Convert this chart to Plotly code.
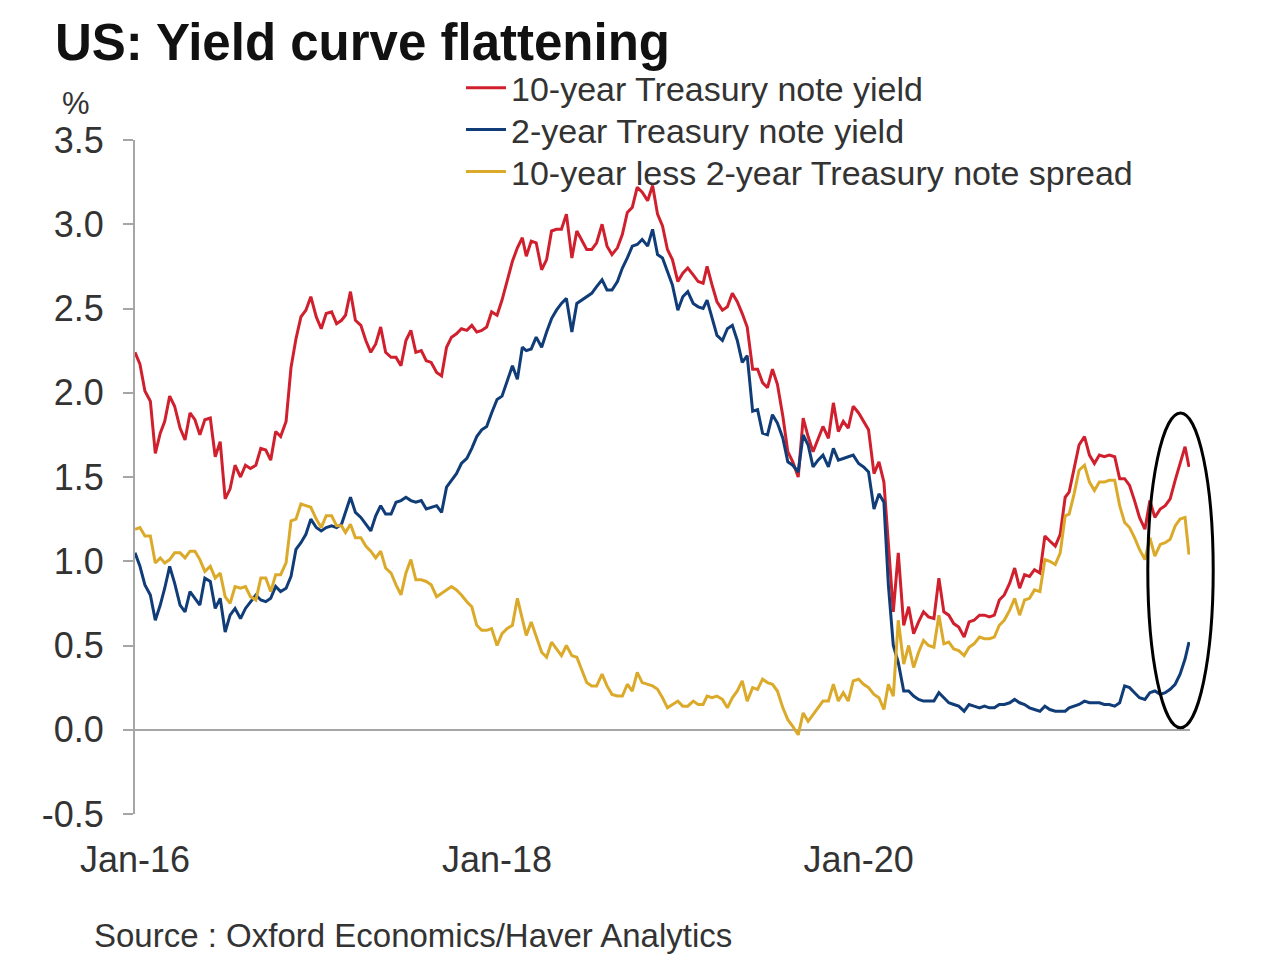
import plotly.graph_objects as go

# ---- data (approx. every 10 days: 1st, 11th, 21st of each month) ----
years = [2016, 2017, 2018, 2019, 2020, 2021]
end_date = "2021-10-29"

y10_2016 = [2.24, 2.17, 2.01, 1.95, 1.64, 1.76, 1.83, 1.98, 1.92, 1.79, 1.72, 1.88,
            1.84, 1.75, 1.84, 1.85, 1.62, 1.71, 1.37, 1.43, 1.57, 1.50, 1.57, 1.55,
            1.57, 1.67, 1.66, 1.60, 1.77, 1.74, 1.83, 2.15, 2.32, 2.45, 2.49, 2.57]
y10_2017 = [2.45, 2.38, 2.47, 2.48, 2.41, 2.43, 2.46, 2.60, 2.43, 2.40, 2.31, 2.24,
            2.29, 2.39, 2.24, 2.21, 2.21, 2.16, 2.31, 2.37, 2.24, 2.25, 2.19, 2.18,
            2.12, 2.10, 2.27, 2.33, 2.35, 2.38, 2.37, 2.40, 2.36, 2.37, 2.39, 2.48]
y10_2018 = [2.46, 2.55, 2.66, 2.78, 2.86, 2.92, 2.81, 2.90, 2.89, 2.73, 2.79, 2.96,
            2.97, 2.97, 3.06, 2.80, 2.96, 2.90, 2.85, 2.85, 2.89, 3.00, 2.87, 2.82,
            2.86, 2.94, 3.07, 3.10, 3.22, 3.19, 3.14, 3.23, 3.06, 2.99, 2.85, 2.79]
y10_2019 = [2.66, 2.71, 2.74, 2.70, 2.66, 2.65, 2.75, 2.64, 2.54, 2.49, 2.51, 2.59,
            2.54, 2.47, 2.39, 2.14, 2.14, 2.06, 2.03, 2.14, 2.05, 1.86, 1.65, 1.59,
            1.50, 1.85, 1.74, 1.65, 1.73, 1.80, 1.73, 1.94, 1.77, 1.83, 1.79, 1.92]
y10_2020 = [1.88, 1.83, 1.78, 1.52, 1.59, 1.47, 1.13, 0.70, 1.05, 0.62, 0.73, 0.57,
            0.64, 0.70, 0.67, 0.66, 0.90, 0.70, 0.68, 0.63, 0.61, 0.55, 0.64, 0.65,
            0.68, 0.68, 0.67, 0.68, 0.77, 0.80, 0.87, 0.96, 0.84, 0.92, 0.91, 0.95]
y10_2021 = [0.93, 1.15, 1.12, 1.09, 1.16, 1.38, 1.41, 1.54, 1.69, 1.74, 1.63, 1.58,
            1.63, 1.62, 1.63, 1.62, 1.49, 1.49, 1.45, 1.36, 1.26, 1.19, 1.36, 1.26,
            1.31, 1.33, 1.37, 1.48, 1.58, 1.68, 1.56]

y2_2016 = [1.05, 0.97, 0.86, 0.80, 0.65, 0.74, 0.84, 0.97, 0.87, 0.74, 0.70, 0.82,
           0.78, 0.74, 0.90, 0.88, 0.72, 0.78, 0.58, 0.68, 0.72, 0.66, 0.72, 0.76,
           0.80, 0.77, 0.76, 0.78, 0.85, 0.82, 0.84, 0.91, 1.07, 1.11, 1.16, 1.25]
y2_2017 = [1.20, 1.18, 1.20, 1.21, 1.20, 1.22, 1.29, 1.38, 1.29, 1.26, 1.22, 1.18,
           1.27, 1.33, 1.28, 1.28, 1.35, 1.36, 1.38, 1.36, 1.35, 1.36, 1.31, 1.32,
           1.33, 1.29, 1.44, 1.48, 1.52, 1.58, 1.61, 1.67, 1.74, 1.78, 1.80, 1.88]
y2_2018 = [1.96, 1.98, 2.06, 2.16, 2.08, 2.27, 2.25, 2.26, 2.33, 2.27, 2.36, 2.44,
           2.49, 2.53, 2.56, 2.36, 2.53, 2.55, 2.57, 2.59, 2.63, 2.67, 2.61, 2.61,
           2.66, 2.74, 2.80, 2.87, 2.88, 2.91, 2.87, 2.97, 2.82, 2.80, 2.72, 2.64]
y2_2019 = [2.49, 2.57, 2.60, 2.53, 2.51, 2.50, 2.55, 2.45, 2.34, 2.31, 2.38, 2.40,
           2.31, 2.18, 2.22, 1.89, 1.90, 1.76, 1.75, 1.87, 1.82, 1.73, 1.59, 1.57,
           1.53, 1.75, 1.69, 1.56, 1.60, 1.63, 1.56, 1.67, 1.60, 1.61, 1.62, 1.63]
y2_2020 = [1.58, 1.56, 1.53, 1.31, 1.40, 1.35, 0.86, 0.50, 0.40, 0.23, 0.23, 0.20,
           0.18, 0.17, 0.17, 0.17, 0.22, 0.19, 0.16, 0.15, 0.14, 0.11, 0.15, 0.14,
           0.13, 0.14, 0.13, 0.13, 0.15, 0.15, 0.16, 0.18, 0.16, 0.15, 0.13, 0.12]
y2_2021 = [0.11, 0.14, 0.12, 0.11, 0.11, 0.11, 0.13, 0.14, 0.15, 0.17, 0.16, 0.16,
           0.16, 0.15, 0.15, 0.14, 0.16, 0.26, 0.25, 0.22, 0.19, 0.18, 0.22, 0.23,
           0.21, 0.22, 0.24, 0.27, 0.33, 0.42, 0.52]

sp_2016 = [1.19, 1.20, 1.15, 1.15, 0.99, 1.02, 0.99, 1.01, 1.05, 1.05, 1.02, 1.06,
           1.06, 1.01, 0.94, 0.97, 0.90, 0.93, 0.79, 0.75, 0.85, 0.84, 0.85, 0.79,
           0.77, 0.90, 0.90, 0.82, 0.92, 0.92, 0.99, 1.24, 1.25, 1.34, 1.33, 1.32]
sp_2017 = [1.25, 1.20, 1.27, 1.27, 1.21, 1.21, 1.17, 1.22, 1.14, 1.14, 1.09, 1.06,
           1.02, 1.06, 0.96, 0.93, 0.86, 0.80, 0.93, 1.01, 0.89, 0.89, 0.88, 0.86,
           0.79, 0.81, 0.83, 0.85, 0.83, 0.80, 0.76, 0.73, 0.62, 0.59, 0.59, 0.60]
sp_2018 = [0.50, 0.57, 0.60, 0.62, 0.78, 0.65, 0.56, 0.64, 0.56, 0.46, 0.43, 0.52,
           0.48, 0.44, 0.50, 0.44, 0.43, 0.35, 0.28, 0.26, 0.26, 0.33, 0.26, 0.21,
           0.20, 0.20, 0.27, 0.23, 0.34, 0.28, 0.27, 0.26, 0.24, 0.19, 0.13, 0.15]
sp_2019 = [0.17, 0.14, 0.14, 0.17, 0.15, 0.15, 0.20, 0.19, 0.20, 0.18, 0.13, 0.19,
           0.23, 0.29, 0.17, 0.25, 0.24, 0.30, 0.28, 0.27, 0.23, 0.13, 0.06, 0.02,
           -0.03, 0.10, 0.05, 0.09, 0.13, 0.17, 0.17, 0.27, 0.17, 0.22, 0.17, 0.29]
sp_2020 = [0.30, 0.27, 0.25, 0.21, 0.19, 0.12, 0.27, 0.20, 0.65, 0.39, 0.50, 0.37,
           0.46, 0.53, 0.50, 0.49, 0.68, 0.51, 0.52, 0.48, 0.47, 0.44, 0.49, 0.51,
           0.55, 0.54, 0.54, 0.55, 0.62, 0.65, 0.71, 0.78, 0.68, 0.77, 0.78, 0.83]
sp_2021 = [0.82, 1.01, 1.00, 0.98, 1.05, 1.27, 1.28, 1.40, 1.54, 1.57, 1.47, 1.42,
           1.47, 1.47, 1.48, 1.48, 1.33, 1.23, 1.20, 1.14, 1.07, 1.01, 1.14, 1.03,
           1.10, 1.11, 1.13, 1.21, 1.25, 1.26, 1.04]

tick_dates = ["2016-01-01", "2018-01-01", "2020-01-01"]
tick_text = ["Jan-16", "Jan-18", "Jan-20"]
y_ticks = [-0.5, 0.0, 0.5, 1.0, 1.5, 2.0, 2.5, 3.0, 3.5]
y_ticktext = ["-0.5", "0.0", "0.5", "1.0", "1.5", "2.0", "2.5", "3.0", "3.5"]

names = ["10-year Treasury note yield", "2-year Treasury note yield",
         "10-year less 2-year Treasury note spread"]
colors = ["#d0202e", "#103c78", "#dcaa2a"]

# ---- build x dates ----
dates = []
for yr in years:
    for m in range(1, 13):
        if yr == 2021 and m > 10:
            break
        for d in (1, 11, 21):
            dates.append(f"{yr}-{m:02d}-{d:02d}")
dates.append(end_date)

y10 = y10_2016 + y10_2017 + y10_2018 + y10_2019 + y10_2020 + y10_2021
y2 = y2_2016 + y2_2017 + y2_2018 + y2_2019 + y2_2020 + y2_2021
sp = sp_2016 + sp_2017 + sp_2018 + sp_2019 + sp_2020 + sp_2021

FONT = "Liberation Sans, Arial, sans-serif"
AX = "#a6a6a6"
TXT = "#333333"

# page body has an 8px margin: figure is 8px smaller than the window
W, H = 1272, 949

fig = go.Figure()
legend_ids = ["legend", "legend2", "legend3"]
for vals, nm, col, lg in zip([y10, y2, sp], names, colors, legend_ids):
    fig.add_trace(go.Scatter(x=dates, y=vals, name=nm, mode="lines", legend=lg,
                             line=dict(color=col, width=3)))
# helper empty trace for the tick axis drawn on the zero line
fig.add_trace(go.Scatter(x=[], y=[], xaxis="x2", showlegend=False, hoverinfo="skip"))

xr = ["2016-01-01", "2021-10-31"]
leg_common = dict(x=0.309, xanchor="left", yanchor="middle", bgcolor="rgba(0,0,0,0)",
                  font=dict(family=FONT, size=34, color=TXT), itemwidth=40)

fig.update_layout(
    width=W, height=H,
    margin=dict(l=127, r=90, t=132, b=143),
    paper_bgcolor="white", plot_bgcolor="white",
    font=dict(family=FONT, color=TXT),
    title=dict(text="<b>US: Yield curve flattening</b>", xref="container", yref="container",
               x=47 / W, xanchor="left", y=1 - 34 / H, yanchor="middle",
               font=dict(family=FONT, size=51, color="#111111")),
    xaxis=dict(range=xr, tickvals=tick_dates, ticktext=tick_text, showgrid=False,
               zeroline=False, showline=False, ticks="", ticklabelstandoff=21,
               tickfont=dict(size=36, color=TXT)),
    xaxis2=dict(range=xr, overlaying="x", anchor="free", position=0.125, side="bottom",
                tickvals=tick_dates[1:], ticks="outside", ticklen=10, tickwidth=2,
                tickcolor=AX, showticklabels=False, showgrid=False, zeroline=False,
                showline=False),
    yaxis=dict(range=[-0.5, 3.5], tickvals=y_ticks, ticktext=y_ticktext, showgrid=False,
               showline=True, linecolor=AX, linewidth=2, ticks="outside", ticklen=10,
               tickwidth=2, tickcolor=AX, zeroline=True, zerolinecolor=AX,
               zerolinewidth=2, ticklabelstandoff=12,
               tickfont=dict(size=36, color=TXT)),
    legend=dict(y=1.077, **leg_common),
    legend2=dict(y=1.015, **leg_common),
    legend3=dict(y=0.9525, **leg_common),
    showlegend=True,
    annotations=[
        dict(text="%", xref="paper", yref="paper", x=-0.056, y=1.054, xanchor="center",
             yanchor="middle", showarrow=False, font=dict(size=31, color=TXT)),
        dict(text="Source : Oxford Economics/Haver Analytics", xref="paper", yref="paper",
             x=-0.041, y=-0.180, xanchor="left", yanchor="middle", showarrow=False,
             font=dict(size=33, color=TXT)),
    ],
    shapes=[dict(type="circle", xref="paper", yref="paper", x0=0.960, x1=1.022,
                 y0=0.128, y1=0.595, line=dict(color="black", width=3))],
)

fig.write_html("out.html")
